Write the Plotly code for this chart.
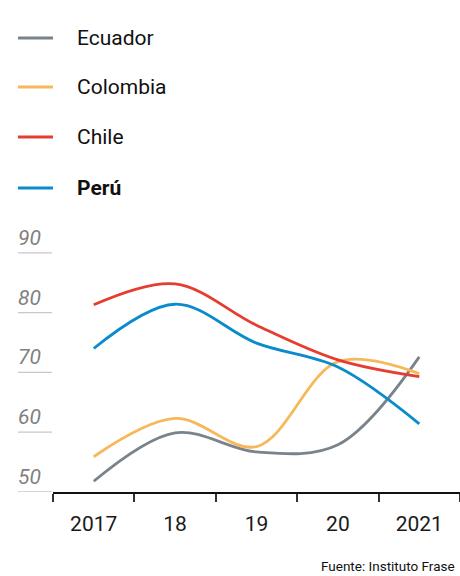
import plotly.graph_objects as go

# Años (categorías) y etiquetas del eje
years = ["2017", "18", "19", "20", "2021"]
y_ticks = [50, 60, 70, 80, 90]

# Series por país
ecuador = [51.8, 59.9, 56.7, 57.9, 72.6]
colombia = [55.9, 62.3, 57.6, 71.8, 69.8]
chile = [81.3, 84.8, 77.9, 72.1, 69.3]
peru = [74.0, 81.4, 74.9, 70.9, 61.4]

names = ["Ecuador", "Colombia", "Chile", "Perú"]
colors = ["#78838c", "#f6b85a", "#e53d30", "#0a8bcb"]
series = [ecuador, colombia, chile, peru]

W, H = 460, 576
ML, MR, MT, MB = 53, 0, 230, 84
PW = W - ML - MR
PH = H - MT - MB

FONT = "Roboto"

fig = go.Figure()
xs = list(range(len(years)))
for name, col, vals in zip(names, colors, series):
    fig.add_trace(go.Scatter(
        x=xs, y=vals, mode="lines", name=name,
        line=dict(color=col, width=2.8, shape="spline", smoothing=1.0),
        showlegend=False, hoverinfo="skip",
    ))

y_min = y_ticks[0]
px_per_unit = 5.98
y_max = y_min + PH / px_per_unit

shapes = []
annotations = []

# Leyenda manual
legend_y = [38, 87, 137, 188]
for name, col, yy in zip(names, colors, legend_y):
    yp = 1 + (MT - yy) / PH
    shapes.append(dict(type="line", xref="paper", yref="paper",
                       x0=(18 - ML) / PW, x1=(53 - ML) / PW, y0=yp, y1=yp,
                       line=dict(color=col, width=3)))
    label = f"<b>{name}</b>" if name == "Perú" else name
    annotations.append(dict(xref="paper", yref="paper",
                            x=(75 - ML) / PW, y=yp, xanchor="left", yanchor="middle",
                            text=label, showarrow=False,
                            font=dict(family=FONT, size=21, color="#111111")))

# Etiquetas del eje Y con línea corta debajo
for v in y_ticks:
    shapes.append(dict(type="line", xref="paper", yref="y",
                       x0=(18 - ML) / PW, x1=(52 - ML) / PW, y0=v, y1=v,
                       line=dict(color="#c8c8c8", width=1.3)))
    annotations.append(dict(xref="paper", yref="y",
                            x=(16 - ML) / PW, y=v, xanchor="left", yanchor="bottom",
                            yshift=1, text=f"<i>{v}</i>", showarrow=False,
                            font=dict(family=FONT, size=21, color="#808080")))

# Fuente
annotations.append(dict(xref="paper", yref="paper", x=1, y=(-(566 - 492)) / PH,
                        xanchor="right", yanchor="middle", xshift=-3,
                        text="Fuente: Instituto Frase", showarrow=False,
                        font=dict(family=FONT, size=13.5, color="#111111")))

fig.update_layout(
    width=W, height=H,
    margin=dict(l=ML, r=MR, t=MT, b=MB),
    paper_bgcolor="white", plot_bgcolor="white",
    shapes=shapes, annotations=annotations,
    xaxis=dict(
        range=[-0.5, len(years) - 0.5], tickvals=xs, ticktext=years,
        ticks="", showgrid=False, zeroline=False,
        showline=True, linecolor="#111111", linewidth=2.2,
        tickfont=dict(family=FONT, size=21, color="#1a1a1a"),
        ticklabelstandoff=12,
        minor=dict(tickvals=[i - 0.5 for i in range(len(years) + 1)],
                   ticks="outside", ticklen=8, tickwidth=1.5, tickcolor="#333333",
                   showgrid=False),
        fixedrange=True,
    ),
    yaxis=dict(range=[y_min, y_max], showticklabels=False, ticks="",
               showgrid=False, zeroline=False, showline=False, fixedrange=True),
)

fig.write_html("out.html", config={"displayModeBar": False})
